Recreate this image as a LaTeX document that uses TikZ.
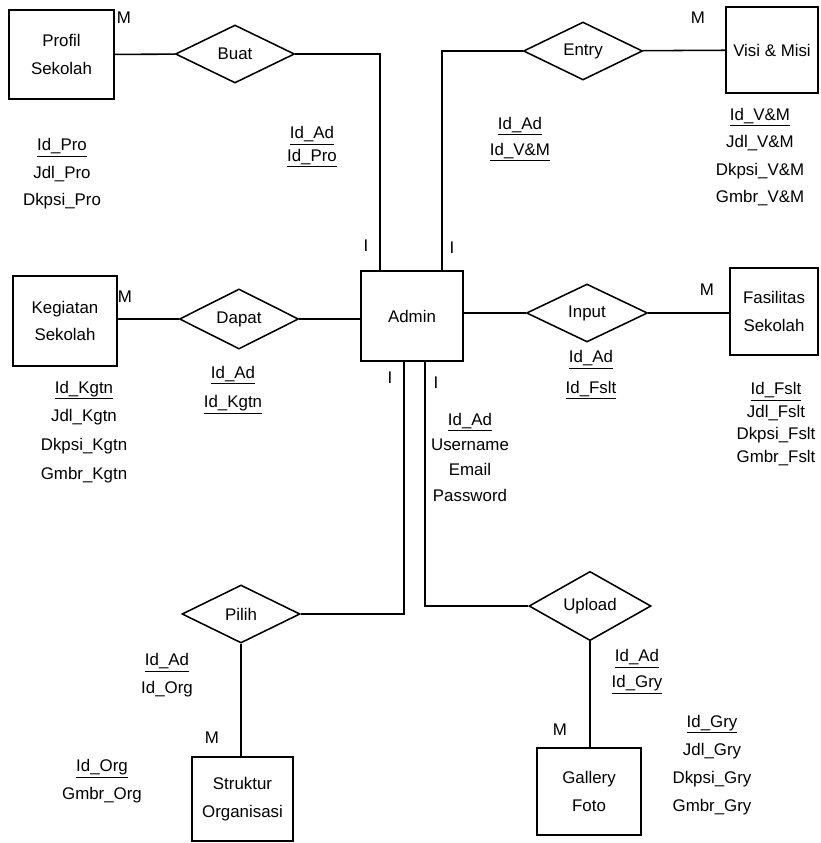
\documentclass[tikz,border=0pt]{standalone}
\usepackage{fontspec}
\setmainfont{Liberation Sans}
\usetikzlibrary{calc,shapes,positioning}

\begin{document}
\begin{tikzpicture}[x=0.025cm,y=-0.025cm,font=\fontsize{12}{19.5}\selectfont]
    \tikzstyle{entity} = [draw, line width=1.1pt, rectangle, align=center, inner sep=1pt]
    \tikzstyle{rel} = [draw, line width=1.1pt, diamond, inner sep=0pt, minimum width=2.975cm, minimum height=1.45cm]
    \tikzstyle{attr} = [align=center, inner sep=1pt]
    \tikzstyle{card} = [inner sep=0pt]
    \useasboundingbox (0,0) rectangle (821,843);
    % entitas
    \node[entity, minimum width=2.625cm, minimum height=2.225cm] (prof) at (61.5,54.5) {Profil\\Sekolah};
    \node[entity, minimum width=2.3cm, minimum height=2.15cm] (visi) at (772,50) {Visi \& Misi};
    \node[entity, minimum width=2.6cm, minimum height=2.25cm] (keg) at (65,321) {Kegiatan\\Sekolah};
    \node[entity, minimum width=2.55cm, minimum height=2.25cm] (admin) at (412,316) {Admin};
    \node[entity, minimum width=2.2cm, minimum height=2.175cm] (fas) at (774,311.5) {Fasilitas\\Sekolah};
    \node[entity, minimum width=2.525cm, minimum height=2.1cm] (org) at (242.5,799) {Struktur\\Organisasi};
    \node[entity, minimum width=2.6cm, minimum height=2.175cm] (gal) at (589,791.5) {Gallery\\Foto};
    % relasi
    \node[rel] (buat) at (235,54) {Buat};
    \node[rel] (entry) at (583,51) {Entry};
    \node[rel, minimum height=1.5cm] (dapat) at (239,319) {Dapat};
    \node[rel, minimum width=3.025cm] (input) at (587,313) {Input};
    \node[rel, minimum width=2.95cm] (pilih) at (241,614) {Pilih};
    \node[rel, minimum width=3.05cm] (upload) at (590,606) {Upload};
    % garis
    \draw[line width=1.1pt] (prof) -- (buat);
    \draw[line width=1.1pt] (buat) -| ([xshift=-0.8cm]admin.north);
    \draw[line width=1.1pt] (entry) -| ([xshift=0.75cm]admin.north);
    \draw[line width=1.1pt] (entry) -- (visi);
    \draw[line width=1.1pt] (keg.east |- dapat) -- (dapat) -- (dapat -| admin.west);
    \draw[line width=1.1pt] (input -| admin.east) -- (input) -- (input -| fas.west);
    \draw[line width=1.1pt] ([xshift=-0.2cm]admin.south) |- (pilih);
    \draw[line width=1.1pt] ([xshift=0.325cm]admin.south) |- (upload);
    \draw[line width=1.1pt] (pilih) -- (pilih |- org.north);
    \draw[line width=1.1pt] (upload) -- (upload |- gal.north);
    % kardinalitas
    \node[card] (mprof) at (124,18) {M};
    \node[card] (mvisi) at (698,18) {M};
    \node[card] (mkeg) at (125,297) {M};
    \node[card] (mfas) at (707,290) {M};
    \node[card] (morg) at (212,738) {M};
    \node[card] (mgal) at (560,730) {M};
    \node[card] (i1) at (366,246) {I};
    \node[card] (i2) at (452,248) {I};
    \node[card] (i3) at (390,378) {I};
    \node[card] (i4) at (436,383) {I};
    % atribut
    \node[attr] (aprof) at (62,174) {\underline{Id\_Pro}\\Jdl\_Pro\\Dkpsi\_Pro};
    \node[attr, font=\fontsize{12}{16}\selectfont] (kbuat) at (312,147) {\underline{Id\_Ad}\\\underline{Id\_Pro}};
    \node[attr, font=\fontsize{12}{18.5}\selectfont] (kentry) at (520,139) {\underline{Id\_Ad}\\\underline{Id\_V\&M}};
    \node[attr] (avisi) at (760,157) {\underline{Id\_V\&M}\\Jdl\_V\&M\\Dkpsi\_V\&M\\Gmbr\_V\&M};
    \node[attr, font=\fontsize{12}{20.5}\selectfont] (akeg) at (84,432) {\underline{Id\_Kgtn}\\Jdl\_Kgtn\\Dkpsi\_Kgtn\\Gmbr\_Kgtn};
    \node[attr, font=\fontsize{12}{21}\selectfont] (kdapat) at (233,390) {\underline{Id\_Ad}\\\underline{Id\_Kgtn}};
    \node[attr, font=\fontsize{12}{21.5}\selectfont] (kinput) at (591,375) {\underline{Id\_Ad}\\\underline{Id\_Fslt}};
    \node[attr, font=\fontsize{12}{16}\selectfont] (afas) at (776,424) {\underline{Id\_Fslt}\\Jdl\_Fslt\\Dkpsi\_Fslt\\Gmbr\_Fslt};
    \node[attr, font=\fontsize{12}{18}\selectfont] (aadmin) at (470,457) {\underline{Id\_Ad}\\Username\\Email\\Password};
    \node[attr] (kpilih) at (167,675) {\underline{Id\_Ad}\\Id\_Org};
    \node[attr] (aorg) at (102,781) {\underline{Id\_Org}\\Gmbr\_Org};
    \node[attr, font=\fontsize{12}{18.5}\selectfont] (kupload) at (637,672) {\underline{Id\_Ad}\\\underline{Id\_Gry}};
    \node[attr, font=\fontsize{12}{20}\selectfont] (agal) at (712,765) {\underline{Id\_Gry}\\Jdl\_Gry\\Dkpsi\_Gry\\Gmbr\_Gry};
\end{tikzpicture}
\end{document}
